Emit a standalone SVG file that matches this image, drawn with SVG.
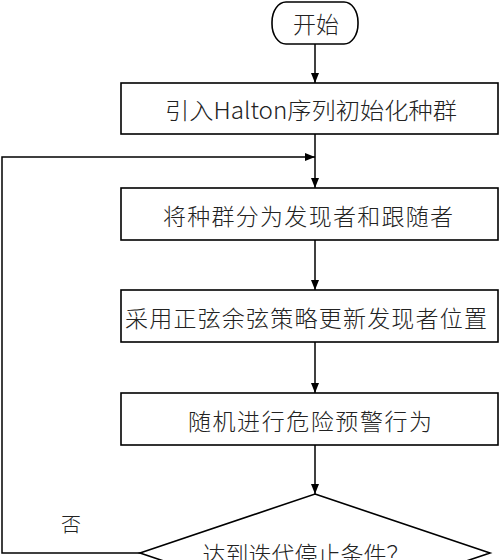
<svg xmlns="http://www.w3.org/2000/svg" width="500" height="560" viewBox="0 0 500 560">
<style>
.box{fill:#fff;stroke:#000;stroke-width:1.6}
.ln{fill:none;stroke:#000;stroke-width:1.5}
.t{font-family:"Noto Sans CJK SC","Liberation Serif",serif;font-size:23px;font-weight:300;fill:#222;text-anchor:middle;dominant-baseline:central}
</style>
<defs>
<marker id="ah" markerWidth="10" markerHeight="8" refX="10" refY="4" orient="auto" markerUnits="userSpaceOnUse">
<path d="M0,0 L10,4 L0,8 Z" fill="#000"/>
</marker>
</defs>
<rect width="500" height="560" fill="#fff"/>
<g id="connectors">
<line class="ln" x1="315" y1="44" x2="315" y2="83" marker-end="url(#ah)"/>
<line class="ln" x1="315" y1="134" x2="315" y2="188" marker-end="url(#ah)"/>
<line class="ln" x1="315" y1="240" x2="315" y2="290" marker-end="url(#ah)"/>
<line class="ln" x1="315" y1="342" x2="315" y2="393" marker-end="url(#ah)"/>
<line class="ln" x1="315" y1="445" x2="315" y2="494" marker-end="url(#ah)"/>
<polyline class="ln" points="140,553 2,553 2,157 315,157" marker-end="url(#ah)"/>
<text class="t" x="71" y="523" style="font-size:20px">否</text>
</g>
<g id="start">
<rect class="box" x="272" y="2" width="86" height="42" rx="14" ry="20"/>
<text class="t" x="316" y="23" textLength="46" lengthAdjust="spacing">开始</text>
</g>
<g id="init">
<rect class="box" x="121" y="83" width="377" height="51"/>
<text class="t" x="311" y="109" textLength="292" lengthAdjust="spacingAndGlyphs">引入Halton序列初始化种群</text>
</g>
<g id="split">
<rect class="box" x="121" y="188" width="377" height="52"/>
<text class="t" x="308" y="215" textLength="290" lengthAdjust="spacing">将种群分为发现者和跟随者</text>
</g>
<g id="update">
<rect class="box" x="121" y="290" width="377" height="52"/>
<text class="t" x="306" y="317" textLength="362" lengthAdjust="spacing">采用正弦余弦策略更新发现者位置</text>
</g>
<g id="warn">
<rect class="box" x="121" y="393" width="377" height="52"/>
<text class="t" x="310" y="420" textLength="244" lengthAdjust="spacing">随机进行危险预警行为</text>
</g>
<g id="decision">
<polygon class="box" points="315,494 490,553 315,612 140,553"/>
<text class="t" x="306" y="553" textLength="207" lengthAdjust="spacing">达到迭代停止条件？</text>
</g>
</svg>
